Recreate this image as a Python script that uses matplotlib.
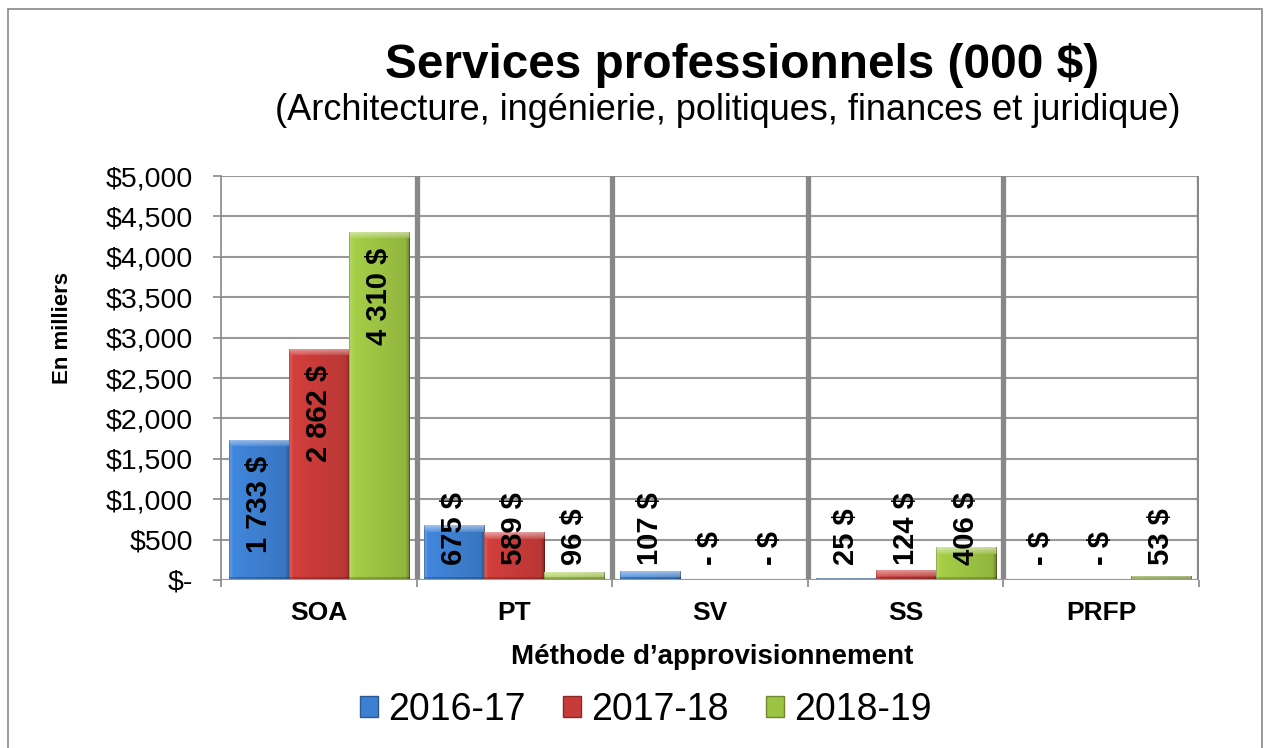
import numpy as np
import matplotlib
matplotlib.use("Agg")
import matplotlib.pyplot as plt
from matplotlib.patches import Rectangle, Patch
from matplotlib.colors import to_rgb

plt.rcParams['font.family'] = ['Liberation Sans', 'DejaVu Sans']

# ---------------- data ----------------
categories = ["SOA", "PT", "SV", "SS", "PRFP"]
series_names = ["2016-17", "2017-18", "2018-19"]
values_2016 = [1733, 675, 107, 25, 0]
values_2017 = [2862, 589, 0, 124, 0]
values_2018 = [4310, 96, 0, 406, 53]
y_ticks = [0, 500, 1000, 1500, 2000, 2500, 3000, 3500, 4000, 4500, 5000]

title = "Services professionnels (000 $)"
subtitle = "(Architecture, ingénierie, politiques, finances et juridique)"
y_label = "En milliers"
x_label = "Méthode d\u2019approvisionnement"

colors = ["#3D7FD0", "#C73B39", "#9DC343"]

# ---------------- figure ----------------
W, H = 1271, 748
fig = plt.figure(figsize=(W / 100, H / 100), dpi=100)
ax = fig.add_axes([221 / W, 1 - 580 / H, (1199 - 221) / W, (580 - 176) / H])

n = len(categories)
x = np.arange(n)
bw = 0.307
series = [values_2016, values_2017, values_2018]

ax.set_xlim(-0.5, n - 0.5)
ax.set_ylim(0, 5000)

# grid
for t in y_ticks:
    ax.axhline(t, color="#999999", lw=1.5, zorder=1)
for b in np.arange(n) + 0.5:
    ax.axvline(b, color="#888888", lw=3.8, zorder=1)

def shade(base, h_px, w_px):
    h_px = max(int(round(h_px)), 1)
    w_px = max(int(round(w_px)), 2)
    c = np.array(to_rgb(base))
    img = np.zeros((h_px, w_px, 3))
    hg = np.linspace(1.07, 0.92, w_px)
    img[:] = c[None, None, :] * hg[None, :, None]
    white = np.ones(3)
    # top bevel: gradient of light
    tb = min(7, h_px)
    for r in range(tb):
        a = 0.42 * (1 - r / 7.0) + 0.08
        img[r] = img[r] * (1 - a) + white * a
    # side bevels
    sw = min(4, w_px // 4)
    for cidx in range(sw):
        a = 0.18 * (1 - cidx / 4.0)
        img[tb:, cidx] = img[tb:, cidx] * (1 - a) + white * a
        img[tb:, w_px - 1 - cidx] = img[tb:, w_px - 1 - cidx] * (1 - 0.25 * (1 - cidx / 4.0))
    bb = min(3, h_px)
    img[-bb:] = img[-bb:] * 0.8
    # thin dark outline
    img[:, 0] *= 0.8
    img[:, -1] *= 0.7
    return np.clip(img, 0, 1)

fig.canvas.draw()
for i, (vals, col) in enumerate(zip(series, colors)):
    xs = x + (i - 1) * bw
    bars = ax.bar(xs, vals, width=bw, color=col, edgecolor="none", zorder=2)
    for p in bars:
        if p.get_height() <= 0:
            continue
        x0, y0 = p.get_x(), p.get_y()
        x1, y1 = x0 + p.get_width(), y0 + p.get_height()
        (px0, py0), (px1, py1) = ax.transData.transform([(x0, y0), (x1, y1)])
        img = shade(col, py1 - py0, px1 - px0)
        im = ax.imshow(img, extent=(x0, x1, y0, y1), aspect="auto",
                       origin="upper", interpolation="bilinear", zorder=3)
        im.set_clip_path(p)
    for xi, v in zip(xs, vals):
        lab = "- $" if v == 0 else f"{v:,}".replace(",", " ") + " $"
        if v >= 1000:
            ax.annotate(lab, (xi, v), xytext=(0, -11.5), textcoords="offset points",
                        rotation=90, ha="center", va="top", fontsize=21,
                        fontweight="bold", zorder=5)
        else:
            ax.annotate(lab, (xi, 0), xytext=(0, 11), textcoords="offset points",
                        rotation=90, ha="center", va="bottom", fontsize=21,
                        fontweight="bold", zorder=5)

ax.set_xlim(-0.5, n - 0.5)
ax.set_ylim(0, 5000)

# axes styling
for s in ["top", "right", "bottom"]:
    ax.spines[s].set_visible(False)
ax.spines["left"].set_color("#888888")
ax.spines["left"].set_linewidth(1.2)
ax.axhline(0, color="#999999", lw=1.5, zorder=4)

ax.set_yticks(y_ticks)
ax.set_yticklabels(["$-" if t == 0 else f"${t:,}" for t in y_ticks], fontsize=20.5)
ax.tick_params(axis="y", direction="out", length=6, width=1.2, color="#888888", pad=14)
ax.set_xticks(x)
ax.set_xticklabels(categories, fontsize=19, fontweight="bold")
ax.set_xticks(np.arange(n + 1) - 0.5, minor=True)
ax.tick_params(axis="x", which="major", length=0, pad=15)
ax.tick_params(axis="x", which="minor", direction="out", length=5, width=1.2, color="#888888")

# texts
fig.text(742 / W, 1 - 65 / H, title, ha="center", va="center", fontsize=34.4, fontweight="bold")
fig.text(728 / W, 1 - 110 / H, subtitle, ha="center", va="center", fontsize=26)
fig.text(62 / W, 1 - 328 / H, y_label, ha="center", va="center", rotation=90,
         fontsize=16, fontweight="bold")
fig.text(712 / W, 1 - 657 / H, x_label, ha="center", va="center", fontsize=20, fontweight="bold")

# legend
handles = [Patch(facecolor=c, edgecolor=np.array(to_rgb(c)) * 0.7, linewidth=1) for c in colors]
fig.legend(handles, series_names, loc="center", bbox_to_anchor=(646 / W, 1 - 710 / H),
           ncol=3, frameon=False, fontsize=27, handlelength=0.48, handleheight=0.48,
           handletextpad=0.27, columnspacing=1.0)

# outer border
fig.add_artist(Rectangle((8 / W, -0.01), (1262 - 8) / W, 1 - 9 / H + 0.01,
                         transform=fig.transFigure, fill=False, edgecolor="#888888", lw=1.2))

fig.savefig("out.png", dpi=100)
